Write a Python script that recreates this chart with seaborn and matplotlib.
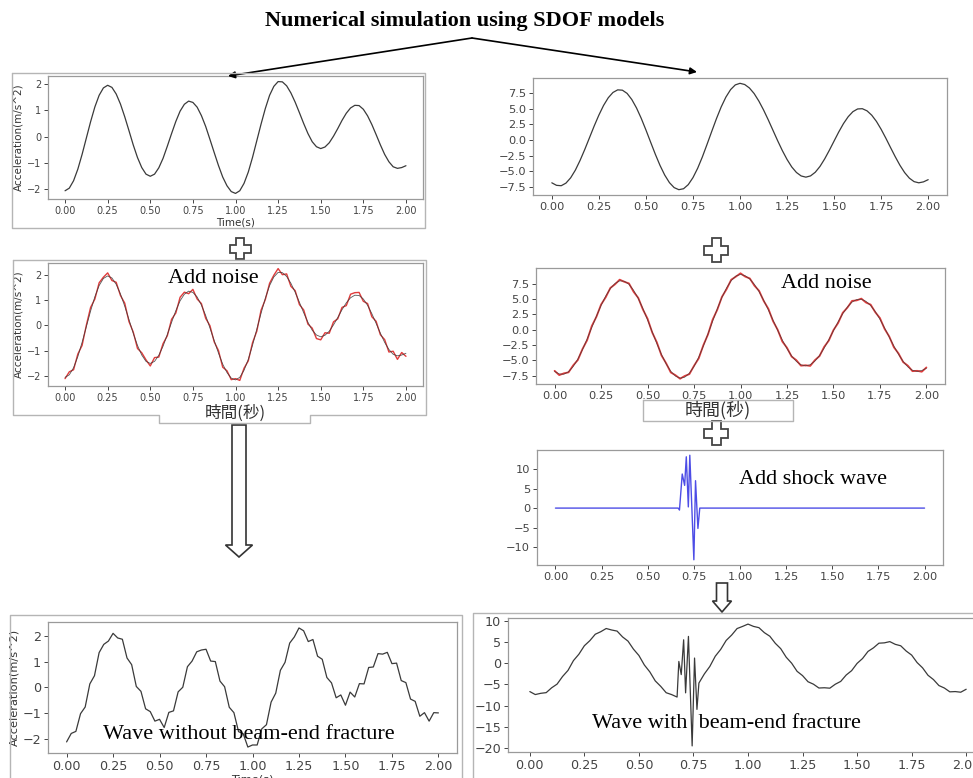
import numpy as np
import pandas as pd
import matplotlib
matplotlib.use("Agg")
import matplotlib.pyplot as plt
from matplotlib.patches import Polygon, FancyArrowPatch
from matplotlib.lines import Line2D
import seaborn as sns

W, H = 973, 778

# ---------------- data ----------------
time_grid = np.round(np.arange(81) * 0.025, 3)   # 0.000 ... 2.000 s

left_base = [-2.05, -1.95, -1.67, -1.23, -0.67, -0.05, 0.57, 1.13, 1.57, 1.85, 1.95,
             1.87, 1.62, 1.24, 0.76, 0.23, -0.31, -0.79, -1.17, -1.42, -1.50,
             -1.42, -1.18, -0.82, -0.36, 0.12, 0.58, 0.97, 1.23, 1.35,
             1.30, 1.12, 0.80, 0.39, -0.10, -0.60, -1.09, -1.53, -1.86, -2.08, -2.15,
             -2.05, -1.77, -1.34, -0.78, -0.15, 0.48, 1.07, 1.57, 1.91, 2.09,
             2.08, 1.93, 1.66, 1.31, 0.91, 0.50, 0.12, -0.19, -0.38, -0.45,
             -0.39, -0.23, 0.02, 0.31, 0.62, 0.89, 1.09, 1.19,
             1.18, 1.04, 0.79, 0.46, 0.08, -0.31, -0.67, -0.95, -1.14, -1.20, -1.17, -1.10]

left_noise_mid = [-0.05, 0.12, -0.08, 0.10, -0.12, 0.06, 0.14, -0.09, 0.11, 0.05, 0.12,
                  -0.10, 0.08, -0.06, 0.12, -0.08, 0.05, -0.12, 0.09, 0.06, -0.10,
                  0.15, -0.07, 0.10, -0.05, 0.12, -0.09, 0.14, 0.08, -0.10,
                  0.12, -0.08, 0.06, -0.11, 0.09, -0.05, 0.10, -0.12, 0.07, -0.06, 0.05,
                  -0.12, 0.08, -0.06, 0.10, -0.08, 0.12, -0.05, 0.09, 0.07, 0.15,
                  -0.08, 0.10, -0.12, 0.06, -0.09, 0.11, -0.07, 0.08, -0.14, -0.12,
                  0.10, -0.08, 0.12, -0.05, 0.09, -0.11, 0.14, 0.10,
                  0.12, -0.09, 0.07, -0.12, 0.08, -0.06, 0.11, -0.10, 0.12, -0.14, 0.10, -0.12]

left_noise_bottom = [-0.08, 0.15, -0.05, 0.20, -0.10, 0.18, -0.12, 0.22, 0.10, -0.05, 0.15,
                     0.05, 0.25, -0.10, 0.12, -0.20, 0.15, -0.05, 0.22, 0.10, 0.25,
                     -0.15, 0.20, -0.10, 0.18, -0.12, 0.22, 0.05, 0.15, 0.10,
                     0.18, -0.10, 0.20, -0.15, 0.12, -0.18, 0.10, -0.20, 0.05, -0.25, -0.10,
                     -0.20, 0.15, -0.12, 0.20, -0.08, 0.18, -0.10, 0.15, 0.05, 0.22,
                     0.12, -0.15, 0.20, -0.10, 0.18, -0.12, 0.05, -0.22, 0.08, -0.25,
                     0.20, -0.15, 0.12, -0.18, 0.15, -0.10, 0.22, 0.10,
                     0.18, -0.12, 0.15, -0.20, 0.10, -0.15, 0.12, -0.18, 0.15, -0.12, 0.18, 0.10]

right_base = [-6.80, -7.20, -7.26, -6.85, -6.01, -4.79, -3.25, -1.51, 0.35, 2.21, 3.95,
              5.49, 6.71, 7.55, 7.96, 7.91, 7.40, 6.43, 5.09, 3.45, 1.60,
              -0.34, -2.26, -4.04, -5.57, -6.77, -7.56, -7.89, -7.74, -7.09, -5.98,
              -4.49, -2.69, -0.68, 1.38, 3.40, 5.25, 6.81, 8.00, 8.75, 9.00,
              8.81, 8.26, 7.38, 6.19, 4.78, 3.21, 1.55, -0.11, -1.68, -3.09,
              -4.28, -5.16, -5.71, -5.90, -5.70, -5.12, -4.20, -3.00, -1.62, -0.16,
              1.29, 2.61, 3.70, 4.50, 4.93, 4.97, 4.63, 3.94, 2.95, 1.70,
              0.29, -1.20, -2.66, -4.02, -5.18, -6.06, -6.61, -6.80, -6.65, -6.30]

right_noise = [0.1, -0.2, 0.15, -0.1, 0.2, -0.15, 0.1, -0.2, 0.25, -0.1, 0.15,
               -0.2, 0.1, -0.15, 0.2, -0.1, 0.15, -0.25, 0.1, -0.15, 0.2,
               -0.1, 0.2, -0.15, 0.1, -0.2, 0.15, -0.1, 0.2, -0.15, 0.1,
               -0.2, 0.15, -0.1, 0.25, -0.15, 0.1, -0.2, 0.15, -0.1, 0.2,
               -0.15, 0.1, -0.2, 0.15, -0.1, 0.2, -0.15, 0.1, -0.25, 0.15,
               -0.1, 0.2, -0.15, 0.1, -0.2, 0.15, -0.1, 0.2, -0.15, 0.1,
               -0.2, 0.15, -0.1, 0.2, -0.15, 0.1, -0.2, 0.15, -0.1, 0.2,
               -0.15, 0.1, -0.2, 0.15, -0.1, 0.2, -0.15, 0.1, -0.2, 0.15]

shock_time = [0.0, 0.665, 0.672, 0.687, 0.700, 0.709, 0.720, 0.728, 0.750, 0.759, 0.772, 0.782, 2.0]
shock_value = [0.0, 0.0, -0.5, 8.7, 5.8, 13.1, 0.3, 13.5, -13.2, 7.0, -5.2, 0.0, 0.0]

burst_time = [0.683, 0.694, 0.705, 0.714, 0.727, 0.744, 0.755, 0.766]
burst_value = [0.4, -2.7, 5.5, -7.0, 6.3, -19.5, 1.2, -10.9]

x_ticks = [0.00, 0.25, 0.50, 0.75, 1.00, 1.25, 1.50, 1.75, 2.00]
left_yticks = [-2, -1, 0, 1, 2]
right_yticks = [-7.5, -5.0, -2.5, 0.0, 2.5, 5.0, 7.5]
shock_yticks = [-10, -5, 0, 5, 10]
frac_yticks = [-20, -15, -10, -5, 0, 5, 10]

title_text = "Numerical simulation using SDOF models"
ylabel_text = "Acceleration(m/s^2)"
xlabel_en = "Time(s)"
xlabel_zh = "時間(秒)"

# ---------------- style ----------------
sns.set_theme(style="white")
plt.rcParams['font.family'] = ['DejaVu Sans']
plt.rcParams['axes.unicode_minus'] = True
SERIF = ['Liberation Serif', 'DejaVu Serif']
CJK = ['Noto Sans CJK TC', 'DejaVu Sans']

fig = plt.figure(figsize=(W / 100, H / 100), dpi=100)
fig.patch.set_facecolor('white')


def px2fig(x, y):
    return x / W, 1 - y / H


def add_axes(l, t, r, b):
    return fig.add_axes([l / W, 1 - b / H, (r - l) / W, (b - t) / H])


def style(ax, fs, yticks):
    for s in ax.spines.values():
        s.set_visible(True)
        s.set_color('#9a9a9a')
        s.set_linewidth(0.9)
    ax.tick_params(axis='both', which='both', labelsize=fs, colors='#444444',
                   length=3, width=0.7, direction='out', bottom=True, left=True, pad=2)
    ax.set_xticks(x_ticks)
    ax.set_yticks(yticks)
    ax.set_xlim(-0.1, 2.1)
    ax.set_xlabel('')
    ax.set_ylabel('')
    ax.set_facecolor('white')


def polyline(points, color='#b5b5b5', lw=1.0):
    xs, ys = zip(*[px2fig(x, y) for x, y in points])
    fig.add_artist(Line2D(xs, ys, transform=fig.transFigure, color=color, lw=lw))


def plus(cx, cy, a=11, b=4):
    pts = [(cx - b, cy - a), (cx + b, cy - a), (cx + b, cy - b), (cx + a, cy - b),
           (cx + a, cy + b), (cx + b, cy + b), (cx + b, cy + a), (cx - b, cy + a),
           (cx - b, cy + b), (cx - a, cy + b), (cx - a, cy - b), (cx - b, cy - b)]
    fig.add_artist(Polygon([px2fig(x, y) for x, y in pts], closed=True,
                           transform=fig.transFigure, facecolor='white',
                           edgecolor='#444444', lw=1.3))


def down_arrow(cx, top, head_top, tip, sw, hw):
    pts = [(cx - sw, top), (cx + sw, top), (cx + sw, head_top), (cx + hw, head_top),
           (cx, tip), (cx - hw, head_top), (cx - sw, head_top)]
    fig.add_artist(Polygon([px2fig(x, y) for x, y in pts], closed=True,
                           transform=fig.transFigure, facecolor='white',
                           edgecolor='#333333', lw=1.2))


lb = np.array(left_base)
rb = np.array(right_base)
left_mid_noisy = lb + np.array(left_noise_mid)
left_bottom_noisy = lb + np.array(left_noise_bottom)
right_noisy = rb + np.array(right_noise)

RED = '#e03b3b'
BLK = '#3a3a3a'
BLUE = '#4d4de6'

# ---------------- panel 1: left top ----------------
ax1 = add_axes(48, 76, 423, 199)
sns.lineplot(x=time_grid, y=lb, ax=ax1, color=BLK, linewidth=0.9)
style(ax1, 7, left_yticks)
ax1.set_xlabel(xlabel_en, fontsize=7.5, color='#333333', labelpad=1)
ax1.set_ylabel(ylabel_text, fontsize=7.5, color='#333333', labelpad=2)

# ---------------- panel 2: right top ----------------
ax2 = add_axes(533, 78, 947, 195)
sns.lineplot(x=time_grid, y=rb, ax=ax2, color=BLK, linewidth=0.9)
style(ax2, 8.2, right_yticks)

# ---------------- panel 3: left, add noise ----------------
ax3 = add_axes(48, 263, 423, 386)
sns.lineplot(x=time_grid, y=left_mid_noisy, ax=ax3, color=RED, linewidth=1.0)
sns.lineplot(x=time_grid, y=lb, ax=ax3, color=BLK, linewidth=0.6, alpha=0.85)
style(ax3, 7, left_yticks)
ax3.set_xlabel(xlabel_zh, fontsize=12, color='#333333', labelpad=1.5, family=CJK)
ax3.set_ylabel(ylabel_text, fontsize=7.5, color='#333333', labelpad=2)
ax3.text(0.44, 0.87, "Add noise", transform=ax3.transAxes, ha='center', va='center',
         fontsize=16, family=SERIF, color='black')

# ---------------- panel 4: right, add noise ----------------
ax4 = add_axes(536, 268, 945, 384)
sns.lineplot(x=time_grid, y=right_noisy, ax=ax4, color=RED, linewidth=1.3)
sns.lineplot(x=time_grid, y=rb, ax=ax4, color=BLK, linewidth=0.5, alpha=0.85)
style(ax4, 8.2, right_yticks)
ax4.text(0.71, 0.87, "Add noise", transform=ax4.transAxes, ha='center', va='center',
         fontsize=16, family=SERIF, color='black')

# ---------------- panel 5: shock wave ----------------
ax5 = add_axes(537, 450, 943, 565)
sns.lineplot(x=shock_time, y=shock_value, ax=ax5, color=BLUE, linewidth=1.0)
style(ax5, 8.2, shock_yticks)
ax5.text(0.68, 0.74, "Add shock wave", transform=ax5.transAxes, ha='center', va='center',
         fontsize=16, family=SERIF, color='black')

# ---------------- panel 6: left bottom ----------------
ax6 = add_axes(48, 622, 457, 753)
sns.lineplot(x=time_grid, y=left_bottom_noisy, ax=ax6, color=BLK, linewidth=0.9)
style(ax6, 9.2, left_yticks)
ax6.set_xlabel(xlabel_en, fontsize=8.2, color='#333333', labelpad=1)
ax6.set_ylabel(ylabel_text, fontsize=8.2, color='#333333', labelpad=2)
ax6.text(0.49, 0.14, "Wave without beam-end fracture", transform=ax6.transAxes,
         ha='center', va='center', fontsize=16, family=SERIF, color='black')

# ---------------- panel 7: right bottom ----------------
before = time_grid <= 0.675
after = time_grid >= 0.775
frac_time = np.concatenate([time_grid[before], burst_time, time_grid[after]])
frac_value = np.concatenate([right_noisy[before], burst_value, right_noisy[after]])
frac_df = pd.DataFrame({'t': frac_time, 'a': frac_value})
ax7 = add_axes(508, 618, 988, 752)
sns.lineplot(data=frac_df, x='t', y='a', ax=ax7, color=BLK, linewidth=0.9, sort=False)
style(ax7, 9.2, frac_yticks)
ax7.text(0.455, 0.21, "Wave with  beam-end fracture", transform=ax7.transAxes,
         ha='center', va='center', fontsize=16, family=SERIF, color='black')

# ---------------- frames / decorations ----------------
polyline([(12, 73), (425, 73), (425, 228), (12, 228), (12, 73)])
polyline([(13, 260), (426, 260), (426, 415), (310, 415), (310, 423), (159, 423),
          (159, 415), (13, 415), (13, 260)])
polyline([(10, 790), (10, 615), (462, 615), (462, 790)])
polyline([(995, 613), (473, 613), (473, 790)])
polyline([(643, 400), (793, 400), (793, 421), (643, 421), (643, 400)])
fx, fy = px2fig(718, 410)
fig.text(fx, fy, xlabel_zh, ha='center', va='center', fontsize=13, family=CJK,
         color='#333333')

plus(240, 248.5, a=10.5, b=4)
plus(716, 250, a=12, b=4.5)
plus(716, 433, a=12, b=4.5)
down_arrow(239, 425, 545, 557, 7, 13.5)
down_arrow(722, 583, 601, 612, 5.5, 9.5)

# title and arrows
tx, ty = px2fig(465, 21)
fig.text(tx, ty, title_text, ha='center', va='center', fontsize=16,
         fontweight='bold', family=SERIF, color='black')
for tip in [(228, 76), (697, 72)]:
    fig.add_artist(FancyArrowPatch(px2fig(472, 38), px2fig(*tip), transform=fig.transFigure,
                                   arrowstyle='-|>', mutation_scale=10, lw=1.2,
                                   color='black', shrinkA=0, shrinkB=0))

fig.savefig('out.png', dpi=100, facecolor='white')
